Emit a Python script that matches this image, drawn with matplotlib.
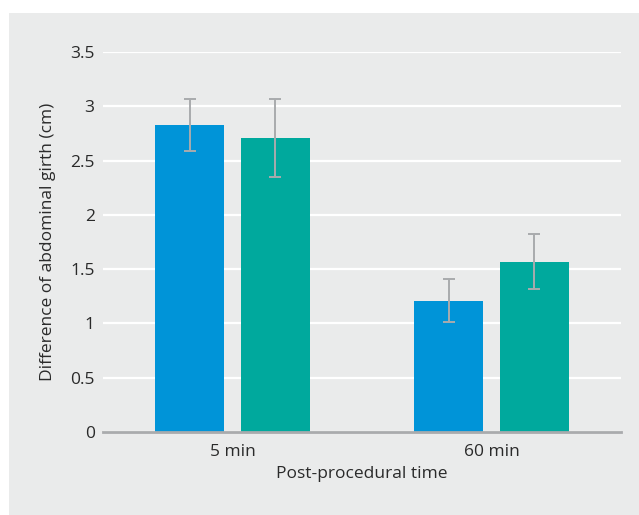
import numpy as np
import matplotlib
matplotlib.use('Agg')
import matplotlib.pyplot as plt
from matplotlib.patches import Rectangle

# Data
categories = ['5 min', '60 min']
group_a = [2.83, 1.21]
group_a_err = [0.24, 0.20]
group_b = [2.71, 1.57]
group_b_err = [0.36, 0.25]
y_ticks = [0, 0.5, 1, 1.5, 2, 2.5, 3, 3.5]
y_tick_labels = ['0', '0.5', '1', '1.5', '2', '2.5', '3', '3.5']

plt.rcParams['font.family'] = ['Open Sans', 'DejaVu Sans']

fig = plt.figure(figsize=(6.39, 5.15), dpi=100)
fig.patch.set_facecolor('white')
# gray panel behind the chart
fig.patches.append(Rectangle((9 / 639, 0), 1, 1 - 13 / 515, transform=fig.transFigure,
                             facecolor='#eaebeb', edgecolor='none', zorder=-5))

ax = fig.add_axes([103 / 639, 83 / 515, 518 / 639, 380 / 515])
ax.set_zorder(2)
ax.set_facecolor('none')

x = np.arange(len(categories))
offset = 0.166
width = 0.266
err_style = dict(ecolor='#a9abad', elinewidth=1.4, capsize=4.3, capthick=1.4)
ax.bar(x - offset, group_a, width, color='#0094d8', yerr=group_a_err,
       error_kw=err_style, zorder=3)
ax.bar(x + offset, group_b, width, color='#00a99d', yerr=group_b_err,
       error_kw=err_style, zorder=3)

ax.set_xlim(-0.5, 1.5)
ax.set_ylim(0, 3.5)
ax.set_yticks(y_ticks)
ax.set_yticklabels(y_tick_labels)
ax.set_xticks(x)
ax.set_xticklabels(categories)
ax.tick_params(length=0, labelsize=12.5, colors='#2a2a2a', pad=6)
ax.tick_params(axis='x', pad=9)

ax.yaxis.grid(True, color='white', linewidth=1.6, zorder=1)
ax.set_axisbelow(True)
for side in ['top', 'right', 'left']:
    ax.spines[side].set_visible(False)
ax.spines['bottom'].set_color('#a9abad')
ax.spines['bottom'].set_linewidth(2)
ax.spines['bottom'].set_zorder(4)

ax.set_xlabel('Post-procedural time', fontsize=12.5, color='#2a2a2a', labelpad=4)
ax.set_ylabel('Difference of abdominal girth (cm)', fontsize=12.5, color='#2a2a2a', labelpad=10)

fig.savefig('out.png', dpi=100, facecolor=fig.get_facecolor())
